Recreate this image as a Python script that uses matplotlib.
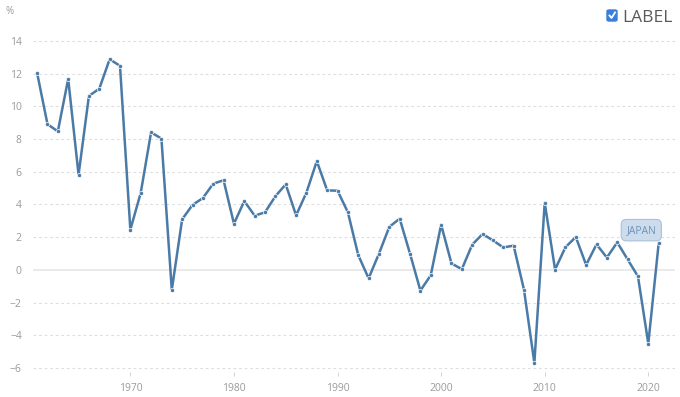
import matplotlib
matplotlib.use("Agg")
import matplotlib.pyplot as plt
from matplotlib.patches import FancyBboxPatch
from matplotlib.lines import Line2D
import numpy as np

# Japan GDP growth, annual %
years = list(range(1961, 2022))
growth = [12.04, 8.91, 8.47, 11.68, 5.82, 10.64, 11.08, 12.88, 12.48, 2.46,
          4.70, 8.41, 8.03, -1.23, 3.09, 3.97, 4.39, 5.27, 5.48, 2.82,
          4.21, 3.31, 3.52, 4.50, 5.23, 3.33, 4.73, 6.65, 4.86, 4.84,
          3.52, 0.90, -0.52, 0.99, 2.63, 3.13, 0.98, -1.27, -0.33, 2.76,
          0.39, 0.04, 1.54, 2.19, 1.80, 1.37, 1.48, -1.22, -5.69, 4.10,
          0.02, 1.38, 2.01, 0.30, 1.56, 0.75, 1.68, 0.64, -0.40, -4.51, 1.62]
yticks = list(range(-6, 15, 2))
xticks = [1970, 1980, 1990, 2000, 2010, 2020]
series_name = "JAPAN"

plt.rcParams['font.family'] = ['Open Sans', 'DejaVu Sans']
line_color = "#4a7aa6"
text_gray = "#9a9a9a"

fig = plt.figure(figsize=(6.8, 3.97), dpi=100)
ax = fig.add_axes([0.0485, 0.063, 0.9445, 0.842])

# grid
for v in yticks:
    if v == 0:
        ax.axhline(0, color="#e6e6e6", lw=1.2, zorder=1)
    else:
        ax.axhline(v, color="#dedede", lw=0.8, ls=(0, (2.5, 2.5)), zorder=1)

ax.plot(years, growth, color=line_color, lw=1.8, marker="o", markersize=3,
        markerfacecolor=line_color, markeredgecolor="white",
        markeredgewidth=0.5, zorder=3)

ax.set_xlim(1960.6, 2022.6)
ax.set_ylim(-6.25, 14.2)
ax.set_yticks(yticks)
ax.set_xticks(xticks)
ax.tick_params(axis="y", length=0, pad=8, labelsize=7.5, labelcolor=text_gray)
ax.tick_params(axis="x", length=3, width=0.6, color="#cccccc", pad=5,
               labelsize=7.5, labelcolor=text_gray)
for s in ax.spines.values():
    s.set_visible(False)

# series label above last point
ax.annotate(series_name, xy=(years[-1], growth[-1]), xytext=(-12.5, 9.5),
            textcoords="offset points", ha="center", va="center",
            fontsize=7.5, color="#6d92b8",
            bbox=dict(boxstyle="round,pad=0.5", fc="#cddcec", ec="#a9c0d8",
                      lw=0.8), zorder=4)

fig.text(5 / 680, 1 - 11 / 397, "%", fontsize=7, color=text_gray,
         ha="left", va="center")

# legend checkbox
box = FancyBboxPatch((607 / 680, 1 - 21 / 397), 10 / 680, 11 / 397,
                     boxstyle="round,pad=0,rounding_size=0.003",
                     transform=fig.transFigure, fc="#3b7ddd", ec="#3b7ddd",
                     zorder=5)
fig.patches.append(box)
fig.lines.append(Line2D([609.5 / 680, 611.5 / 680, 615 / 680],
                        [1 - 15.5 / 397, 1 - 18 / 397, 1 - 12.5 / 397],
                        transform=fig.transFigure, color="white", lw=1.3,
                        zorder=6))
fig.text(622 / 680, 1 - 18 / 397, "LABEL", fontsize=12.5, color="#5a5a5a",
         ha="left", va="center")

fig.savefig("out.png", dpi=100, facecolor="white")
